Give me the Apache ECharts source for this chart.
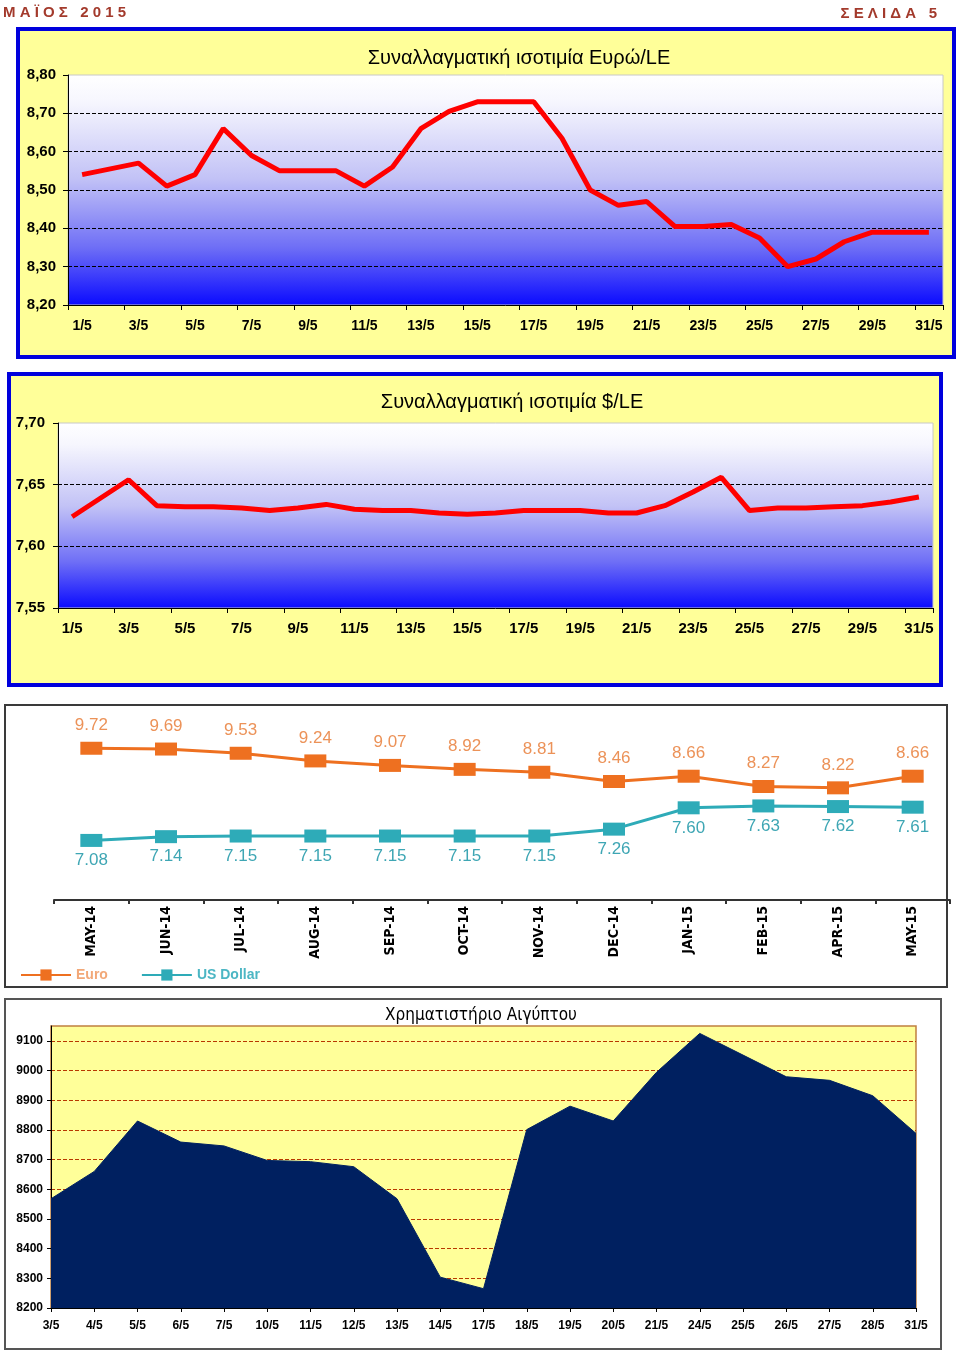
<!DOCTYPE html>
<html><head><meta charset="utf-8">
<script src="https://cdn.jsdelivr.net/npm/echarts/dist/echarts.min.js"></script>
<style>html,body{margin:0;padding:0;background:#fff}#c{width:960px;height:1352px}</style>
</head><body><div id="c"></div>
<script>
// ---- Data ----
const days = ['1/5','2/5','3/5','4/5','5/5','6/5','7/5','8/5','9/5','10/5','11/5','12/5','13/5','14/5','15/5','16/5','17/5','18/5','19/5','20/5','21/5','22/5','23/5','24/5','25/5','26/5','27/5','28/5','29/5','30/5','31/5'];
const euroLE = [8.54, 8.555, 8.57, 8.51, 8.54, 8.66, 8.59, 8.55, 8.55, 8.55, 8.51, 8.56, 8.66, 8.705, 8.73, 8.73, 8.73, 8.635, 8.50, 8.46, 8.47, 8.405, 8.405, 8.41, 8.375, 8.30, 8.32, 8.365, 8.39, 8.39, 8.39];
const usdLE = [7.624, 7.639, 7.654, 7.633, 7.632, 7.632, 7.631, 7.629, 7.631, 7.634, 7.630, 7.629, 7.629, 7.627, 7.626, 7.627, 7.629, 7.629, 7.629, 7.627, 7.627, 7.633, 7.644, 7.656, 7.629, 7.631, 7.631, 7.632, 7.633, 7.636, 7.640];

const months = ['MAY-14','JUN-14','JUL-14','AUG-14','SEP-14','OCT-14','NOV-14','DEC-14','JAN-15','FEB-15','APR-15','MAY-15'];
const euroMonthly = [9.72, 9.69, 9.53, 9.24, 9.07, 8.92, 8.81, 8.46, 8.66, 8.27, 8.22, 8.66];
const usdMonthly = [7.08, 7.14, 7.15, 7.15, 7.15, 7.15, 7.15, 7.26, 7.60, 7.63, 7.62, 7.61];

const egxDates = ['3/5','4/5','5/5','6/5','7/5','10/5','11/5','12/5','13/5','14/5','17/5','18/5','19/5','20/5','21/5','24/5','25/5','26/5','27/5','28/5','31/5'];
const egxValues = [8568, 8660, 8830, 8759, 8746, 8697, 8693, 8676, 8568, 8304, 8265, 8801, 8880, 8830, 8994, 9125, 9052, 8979, 8967, 8915, 8788];

// ---- Styles ----
const ARIAL = '"Liberation Sans", Arial, sans-serif';
const NARROW = '"Liberation Sans Narrow", "DejaVu Sans Condensed", "Liberation Sans", Arial, sans-serif';
const blueGrad = {type:'linear', x:0, y:0, x2:0, y2:1, colorStops:[
  {offset:0, color:'#ffffff'}, {offset:0.12, color:'#f6f6fe'}, {offset:0.45, color:'#c2c2f6'},
  {offset:0.75, color:'#6e6ef6'}, {offset:1, color:'#0a0aff'}]};
const comma2 = v => v.toFixed(2).replace('.', ',');
const fixed2 = p => Number(p.value).toFixed(2);
const plainInt = v => String(Math.round(v));
const T = 'rgba(0,0,0,0)';

const chart = echarts.init(document.getElementById('c'), null, {renderer:'canvas'});

const option = {
  animation: false,
  backgroundColor: '#ffffff',
  graphic: [
    {type:'rect', z:-5, shape:{x:18, y:29, width:936, height:328}, style:{fill:'#FFFF99', stroke:'#0000DD', lineWidth:4}},
    {type:'rect', z:-5, shape:{x:9, y:374, width:932, height:311}, style:{fill:'#FFFF99', stroke:'#0000DD', lineWidth:4}},
    {type:'rect', z:-5, shape:{x:5, y:705, width:942, height:282}, style:{fill:'#ffffff', stroke:'#3a3a3a', lineWidth:2}},
    {type:'rect', z:-5, shape:{x:5, y:999, width:936, height:350}, style:{fill:'#ffffff', stroke:'#555555', lineWidth:2}},
    {type:'text', z:10, x:3, y:13, style:{text:'Μ Α Ϊ Ο Σ   2 0 1 5', fill:'#A33A2C', font:'bold 15px ' + ARIAL, align:'left', verticalAlign:'middle'}},
    {type:'text', z:10, x:937, y:14, style:{text:'Σ Ε Λ Ι Δ Α   5', fill:'#A33A2C', font:'bold 15px ' + ARIAL, align:'right', verticalAlign:'middle'}},
    {type:'text', z:10, x:519, y:58, style:{text:'Συναλλαγματική ισοτιμία Ευρώ/LE', fill:'#000', font:'20px ' + ARIAL, align:'center', verticalAlign:'middle'}},
    {type:'text', z:10, x:512, y:402, style:{text:'Συναλλαγματική ισοτιμία $/LE', fill:'#000', font:'20px ' + ARIAL, align:'center', verticalAlign:'middle'}},
    {type:'text', z:10, x:481, y:1016, style:{text:'Χρηματιστήριο Αιγύπτου', fill:'#000', font:'17px ' + NARROW, align:'center', verticalAlign:'middle'}}
  ],
  legend: {
    left: 15, top: 963, itemWidth: 50, itemHeight: 14, itemGap: 33,
    textStyle: {fontSize: 14, fontWeight: 'bold', fontFamily: ARIAL},
    data: [{name:'Euro', textStyle:{color:'#F2A878'}}, {name:'US Dollar', textStyle:{color:'#4CB6C4'}}]
  },
  grid: [
    {left:68, top:75, width:875, height:230, show:true, backgroundColor: blueGrad, borderColor:'#c8c8c8', borderWidth:1},
    {left:58, top:423, width:875, height:185, show:true, backgroundColor: blueGrad, borderColor:'#c8c8c8', borderWidth:1},
    {left:54, top:715, width:896, height:185},
    {left:51, top:1026, width:865, height:282, show:true, backgroundColor:'#FFFF99', borderColor:'#C08040', borderWidth:1.5}
  ],
  xAxis: [
    {type:'category', gridIndex:0, data:days, boundaryGap:true,
     axisLine:{lineStyle:{color:'#000', width:1}},
     axisTick:{show:true, interval:1, length:5, lineStyle:{color:'#000'}},
     axisLabel:{interval:1, margin:14, color:'#000', fontSize:14, fontWeight:'bold', fontFamily:ARIAL}},
    {type:'category', gridIndex:1, data:days, boundaryGap:true,
     axisLine:{lineStyle:{color:'#000', width:1}},
     axisTick:{show:true, interval:1, length:5, lineStyle:{color:'#000'}},
     axisLabel:{interval:1, margin:13, color:'#000', fontSize:15, fontWeight:'bold', fontFamily:ARIAL}},
    {type:'category', gridIndex:2, data:months, boundaryGap:true,
     axisLine:{lineStyle:{color:'#333', width:2}},
     axisTick:{show:true, length:4, lineStyle:{color:'#333', width:2}},
     axisLabel:{interval:0, rotate:90, margin:6, color:'#000', fontSize:14, fontWeight:'bold', fontFamily:NARROW}},
    {type:'category', gridIndex:3, data:egxDates, boundaryGap:false,
     axisLine:{lineStyle:{color:'#000', width:1}},
     axisTick:{show:true, length:4, lineStyle:{color:'#000'}},
     axisLabel:{interval:0, margin:12, color:'#000', fontSize:12, fontWeight:'bold', fontFamily:ARIAL}}
  ],
  yAxis: [
    {type:'value', gridIndex:0, min:8.2, max:8.8, interval:0.1,
     axisLine:{show:true, lineStyle:{color:'#000'}},
     axisTick:{show:true, length:5, lineStyle:{color:'#000'}},
     axisLabel:{formatter: comma2, margin:12, color:'#000', fontSize:15, fontWeight:'bold', fontFamily:ARIAL},
     splitLine:{show:true, lineStyle:{type:'dashed', color:[T,'#000','#000','#000','#000','#000',T], width:1}}},
    {type:'value', gridIndex:1, min:7.55, max:7.70, interval:0.05,
     axisLine:{show:true, lineStyle:{color:'#000'}},
     axisTick:{show:true, length:5, lineStyle:{color:'#000'}},
     axisLabel:{formatter: comma2, margin:13, color:'#000', fontSize:15, fontWeight:'bold', fontFamily:ARIAL},
     splitLine:{show:true, lineStyle:{type:'dashed', color:[T,'#000','#000',T], width:1}}},
    {type:'value', gridIndex:2, min:3.97, max:10.98, show:false, splitLine:{show:false}},
    {type:'value', gridIndex:2, min:6.13, max:9.08, show:false, splitLine:{show:false}},
    {type:'value', gridIndex:3, min:8200, max:9150, interval:100,
     axisLine:{show:true, lineStyle:{color:'#000'}},
     axisTick:{show:true, length:4, lineStyle:{color:'#000'}},
     axisLabel:{formatter: plainInt, showMaxLabel:false, margin:8, color:'#000', fontSize:12, fontWeight:'bold', fontFamily:ARIAL},
     splitLine:{show:true, lineStyle:{type:'dashed', color:[T,'#B83800','#B83800','#B83800','#B83800','#B83800','#B83800','#B83800','#B83800','#B83800',T], width:1}}}
  ],
  series: [
    {name:'EUR/LE', type:'line', xAxisIndex:0, yAxisIndex:0, data:euroLE, showSymbol:false, symbol:'none',
     lineStyle:{color:'#FF0000', width:5}, itemStyle:{color:'#FF0000'}, z:5},
    {name:'USD/LE', type:'line', xAxisIndex:1, yAxisIndex:1, data:usdLE, showSymbol:false, symbol:'none',
     lineStyle:{color:'#FF0000', width:5}, itemStyle:{color:'#FF0000'}, z:5},
    {name:'Euro', type:'line', xAxisIndex:2, yAxisIndex:2, data:euroMonthly, symbol:'rect', symbolSize:[22,13],
     lineStyle:{color:'#EE7020', width:3}, itemStyle:{color:'#EE7020'},
     label:{show:true, position:'top', distance:8, formatter:fixed2, color:'#EC9258', fontSize:17, fontFamily:ARIAL}, z:5},
    {name:'US Dollar', type:'line', xAxisIndex:2, yAxisIndex:3, data:usdMonthly, symbol:'rect', symbolSize:[22,13],
     lineStyle:{color:'#2EABB8', width:3}, itemStyle:{color:'#2EABB8'},
     label:{show:true, position:'bottom', distance:5, formatter:fixed2, color:'#3EA6B4', fontSize:17, fontFamily:ARIAL}, z:5},
    {name:'EGX', type:'line', xAxisIndex:3, yAxisIndex:4, data:egxValues, showSymbol:false, symbol:'none',
     lineStyle:{color:'#002060', width:1}, itemStyle:{color:'#002060'},
     areaStyle:{color:'#002060', opacity:1, origin:'start'}, z:3}
  ]
};
chart.setOption(option);
</script></body></html>
